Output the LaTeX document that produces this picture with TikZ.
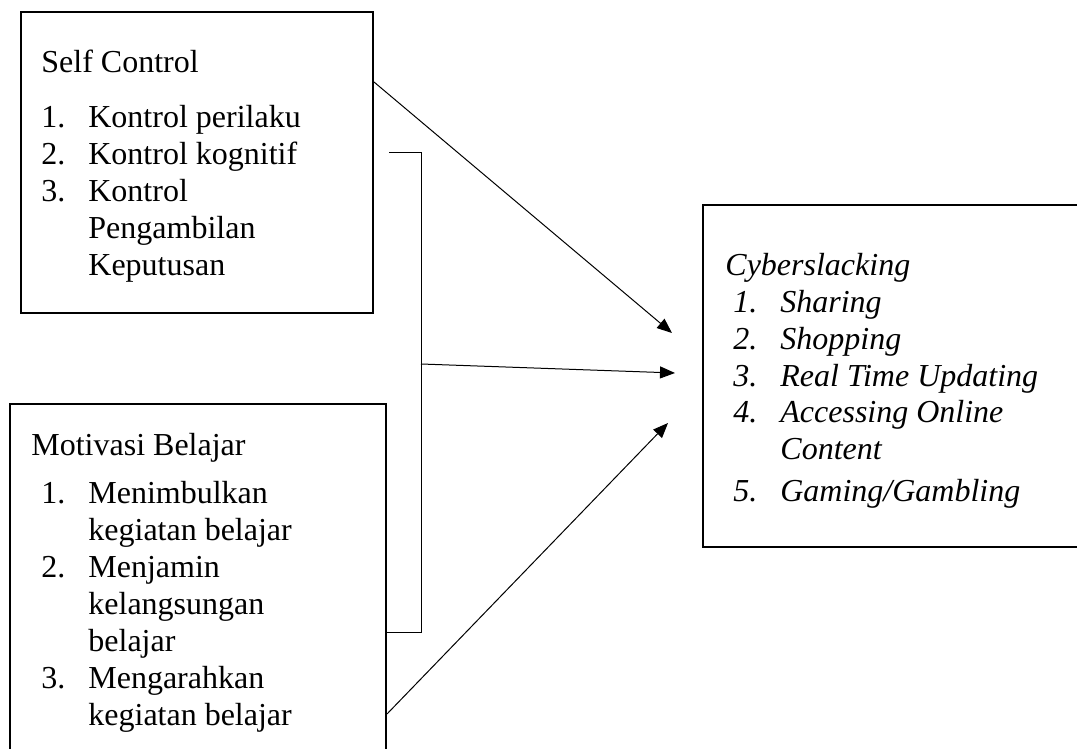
\documentclass[tikz,border=0pt]{standalone}
\usepackage{fontspec}
\setmainfont{Liberation Serif}
\usetikzlibrary{arrows.meta,calc}
\newcommand{\itm}[2]{\makebox[23.5pt][l]{#1}#2}
\newcommand{\cnt}[1]{\hspace*{23.5pt}#1}

\begin{document}
\begin{tikzpicture}[x=0.5pt,y=-0.5pt,
	box/.style={ draw, line width=1pt, inner sep=0pt, anchor=north west },
	txt/.style={ inner sep=0pt, anchor=base west, font=\fontsize{16}{18.5}\selectfont },
	link/.style={ line width=0.5pt },
	arr/.style={ line width=0.5pt, -{Triangle[length=7.5pt,width=6pt]} }
]
\useasboundingbox (0,0) rectangle (1077,749);

\node at (20,11) (sc) [box, minimum width=176pt, minimum height=150.5pt] {};
\node at (41,73) (sct) [txt] {\begin{tabular}[t]{@{}l@{}}
Self Control\\[9pt]
\itm{1.}{Kontrol perilaku}\\
\itm{2.}{Kontrol kognitif}\\
\itm{3.}{Kontrol}\\
\cnt{Pengambilan}\\
\cnt{Keputusan}
\end{tabular}};

\node at (9,403) (mb) [box, minimum width=188pt, minimum height=183.5pt] {};
\node at (31,455) (mbt) [txt] {\begin{tabular}[t]{@{}l@{}}
Motivasi Belajar\\[5.5pt]
\hspace*{5pt}\itm{1.}{Menimbulkan}\\
\hspace*{5pt}\cnt{kegiatan belajar}\\
\hspace*{5pt}\itm{2.}{Menjamin}\\
\hspace*{5pt}\cnt{kelangsungan}\\
\hspace*{5pt}\cnt{belajar}\\
\hspace*{5pt}\itm{3.}{Mengarahkan}\\
\hspace*{5pt}\cnt{kegiatan belajar}
\end{tabular}};

\node at (702,204) (cs) [box, minimum width=199pt, minimum height=171pt] {};
\node at (725,275) (cst) [txt] {\itshape\begin{tabular}[t]{@{}l@{}}
Cyberslacking\\
\hspace*{4pt}\itm{1.}{Sharing}\\
\hspace*{4pt}\itm{2.}{Shopping}\\
\hspace*{4pt}\itm{3.}{Real Time Updating}\\
\hspace*{4pt}\itm{4.}{Accessing Online}\\
\hspace*{4pt}\cnt{Content}\\[2pt]
\hspace*{4pt}\itm{5.}{Gaming/Gambling}
\end{tabular}};

\coordinate (b1) at (389,153);
\coordinate (b2) at (421,153);
\coordinate (b3) at (421,632);
\coordinate (jn) at (421,364);
\draw[link] (b1) -- (b2) -- (b3) -- ($(mb.north east)+(0,229)$);

\coordinate (tp1) at (672,333);
\coordinate (tp2) at (675,373);
\coordinate (tp3) at (668,423);
\draw[arr] ($(sc.north east)+(0,71)$) -- (tp1);
\draw[arr] (jn) -- (tp2);
\draw[arr] ($(mb.north east)+(0,311)$) -- (tp3);

\end{tikzpicture}
\end{document}
